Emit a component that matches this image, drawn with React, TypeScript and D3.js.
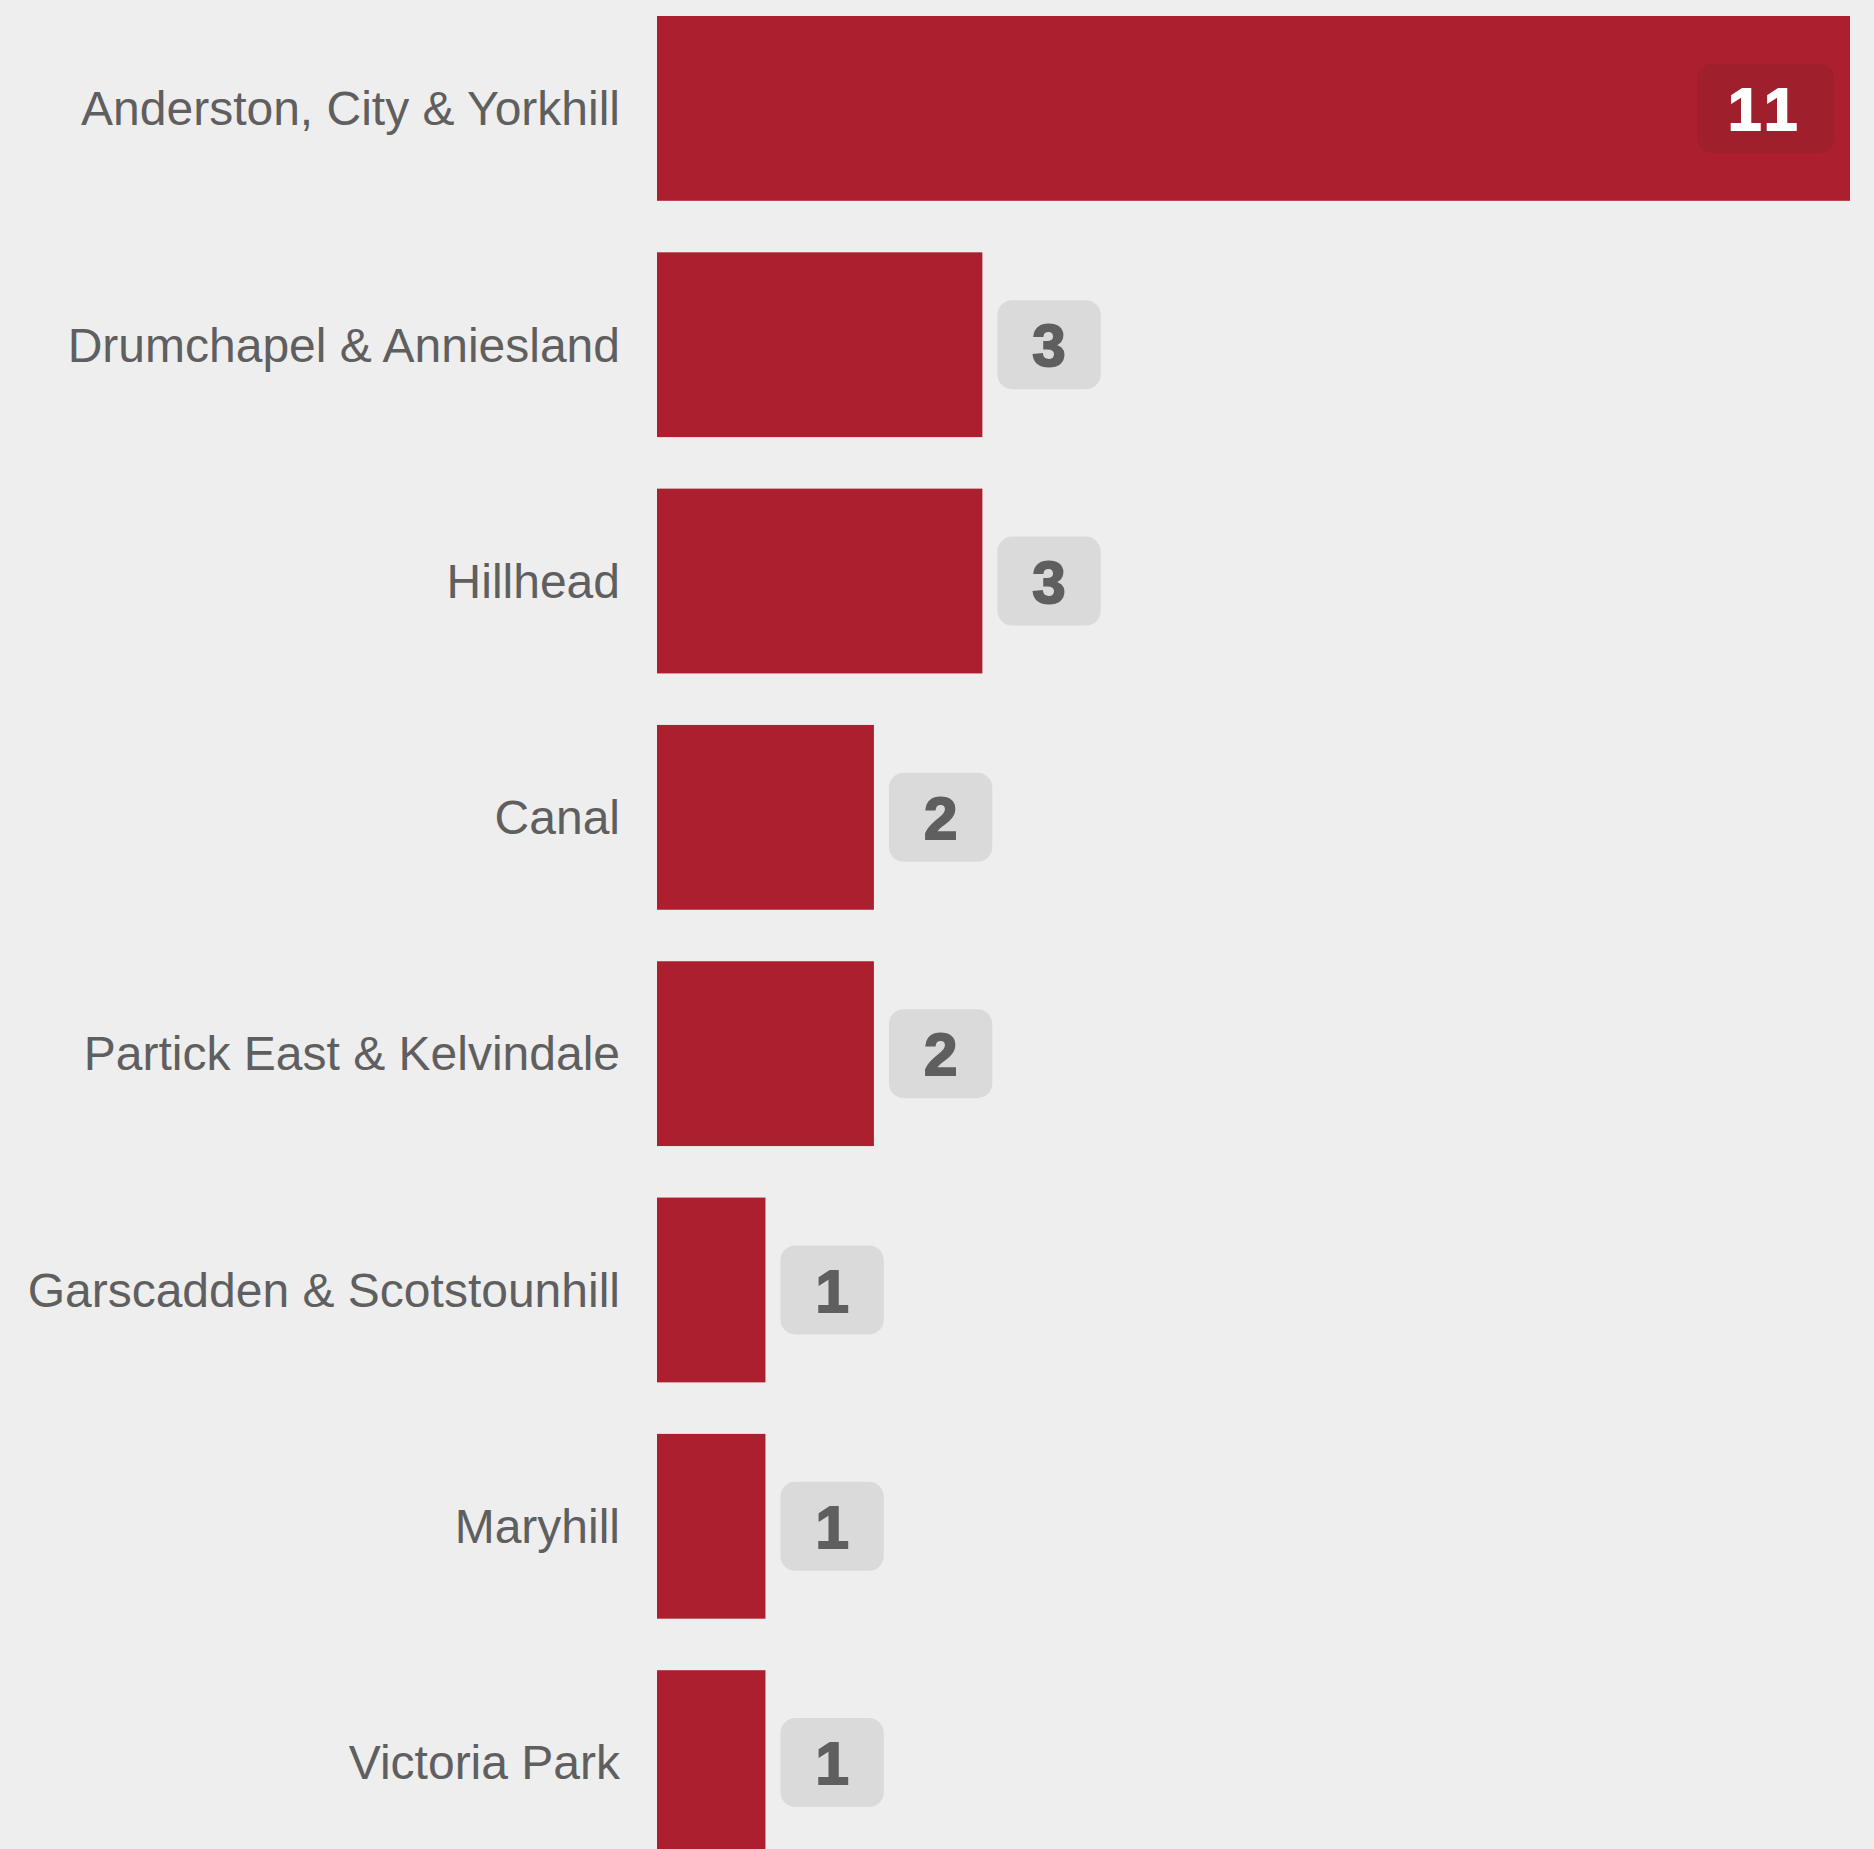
import React from "react";
import * as d3 from "d3";

const categories = [
  "Anderston, City & Yorkhill",
  "Drumchapel & Anniesland",
  "Hillhead",
  "Canal",
  "Partick East & Kelvindale",
  "Garscadden & Scotstounhill",
  "Maryhill",
  "Victoria Park",
];
const values = [11, 3, 3, 2, 2, 1, 1, 1];

const W = 1874;
const H = 1849;
const BG = "#eeeeee";
const BAR = "#ab1f2e";
const TEXT = "#5f5f5f";
const BOX = "#dadada";
const BOX_IN = "#9f1f2c";

export default function App() {
  const x = d3.scaleLinear().domain([0, d3.max(values) as number]).range([657, 1850]);
  const y = d3
    .scaleBand<string>()
    .domain(categories)
    .range([16, 1855])
    .paddingInner(0.218)
    .paddingOuter(0);
  const maxV = d3.max(values) as number;
  const fs = 60;
  const charW = (s: string) => s.length * 0.556 * fs;
  const boxH = 89;

  return (
    <svg
      width={W}
      height={H}
      style={{ position: "absolute", left: 0, top: 0, background: BG }}
    >
      <rect x={0} y={0} width={W} height={H} fill={BG} />
      {categories.map((c, i) => {
        const v = values[i];
        const by = y(c) as number;
        const bh = y.bandwidth();
        const cy = by + bh / 2;
        const x0 = x(0);
        const x1 = x(v);
        const label = String(v);
        const bw = charW(label) + 70;
        const inside = v === maxV;
        const boxX = inside ? x1 - 16 - bw : x1 + 15;
        return (
          <g key={c}>
            <text
              x={x0 - 37}
              y={cy}
              dy="0.35em"
              textAnchor="end"
              fontFamily="'Liberation Sans', Arial, sans-serif"
              fontSize={48}
              fill={TEXT}
            >
              {c}
            </text>
            <rect x={x0} y={by} width={x1 - x0} height={bh} fill={BAR} />
            <rect
              x={boxX}
              y={cy - boxH / 2}
              width={bw}
              height={boxH}
              rx={15}
              ry={15}
              fill={inside ? BOX_IN : BOX}
            />
            <text
              x={boxX + bw / 2}
              y={cy}
              dy="0.36em"
              textAnchor="middle"
              fontFamily="'Liberation Sans', Arial, sans-serif"
              fontWeight="bold"
              fontSize={fs}
              letterSpacing={label.length > 1 ? 6 : 0}
              fill={inside ? "#ffffff" : TEXT}
              stroke={inside ? "#ffffff" : TEXT}
              strokeWidth={2}
            >
              {label}
            </text>
          </g>
        );
      })}
    </svg>
  );
}
